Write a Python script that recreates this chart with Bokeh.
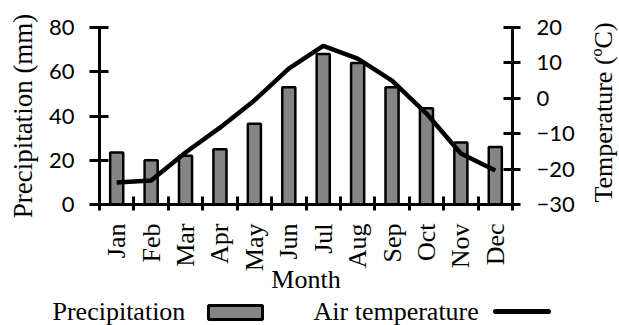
import math
from bokeh.plotting import figure
from bokeh.models import Range1d, LinearAxis, FixedTicker
from bokeh.core.properties import value
from bokeh.embed import file_html
from bokeh.resources import INLINE

months = ["Jan", "Feb", "Mar", "Apr", "May", "Jun", "Jul", "Aug", "Sep", "Oct", "Nov", "Dec"]
precip = [23.5, 20, 22, 25, 36.5, 53, 68, 64, 53, 43.5, 28, 26]
temp = [-23.8, -23.2, -15.3, -8.3, -0.6, 8.4, 14.8, 11.2, 5.0, -4.3, -15.6, -20.4]
precip_ticks = [0, 20, 40, 60, 80]
temp_ticks = [-30, -20, -10, 0, 10, 20]

centers = [i + 0.5 for i in range(len(months))]
bounds = list(range(len(months) + 1))

SERIF = "Liberation Serif"
SANS = "Lato"

# canvas / chart-area geometry in pixels; the frame fills the whole canvas
W, H = 619, 325
FL, FR, FT, FB = 99, 512, 27, 204
kx = (FR - FL) / len(months)
ky = (FB - FT) / (precip_ticks[-1] - precip_ticks[0])
kt = (FB - FT) / (temp_ticks[-1] - temp_ticks[0])
def dx(px):
    return (px - FL) / kx
def dy(py):
    return precip_ticks[0] + (FB - py) / ky
def ty(py):
    return temp_ticks[0] + (FB - py) / kt

p = figure(width=W, height=H, x_range=Range1d(dx(0), dx(W)),
           y_range=Range1d(dy(H), dy(0)),
           output_backend="svg", toolbar_location=None, min_border=0)
p.extra_y_ranges = {"temp": Range1d(ty(H), ty(0))}
p.outline_line_color = None
p.xgrid.visible = False
p.ygrid.visible = False
p.background_fill_color = "white"
p.border_fill_color = "white"

p.vbar(x=centers, top=precip, width=0.38, bottom=0,
       fill_color="#858585", line_color="black", line_width=2.5)
p.line(x=centers, y=temp, y_range_name="temp", line_color="black", line_width=4.5)

# bottom axis
xa = p.xaxis[0]
xa.fixed_location = precip_ticks[0]
xa.bounds = (0, len(months))
xa.ticker = FixedTicker(ticks=centers, minor_ticks=bounds)
xa.major_label_overrides = {c: m for c, m in zip(centers, months)}
xa.major_label_orientation = math.pi / 2
xa.major_tick_in = 0
xa.major_tick_out = 6
xa.major_tick_line_color = None
xa.minor_tick_in = 8
xa.minor_tick_out = 6
xa.minor_tick_line_width = 3
xa.minor_tick_line_color = "black"
xa.axis_line_width = 3
xa.axis_line_color = "black"
xa.major_label_standoff = 13
xa.major_label_text_font = SERIF
xa.major_label_text_font_size = "26px"
xa.major_label_text_color = "black"
xa.axis_label = "Month"
xa.axis_label_text_font = SERIF
xa.axis_label_text_font_size = "26px"
xa.axis_label_text_font_style = "normal"
xa.axis_label_text_color = "black"
xa.axis_label_standoff = -9

# left axis
ya = p.yaxis[0]
ya.fixed_location = 0
ya.bounds = (precip_ticks[0], precip_ticks[-1])
ya.ticker = FixedTicker(ticks=precip_ticks)
ya.major_tick_in = 9
ya.major_tick_out = 10
ya.major_tick_line_width = 3
ya.major_tick_line_color = "black"
ya.minor_tick_line_color = None
ya.axis_line_width = 3
ya.axis_line_color = "black"
ya.major_label_standoff = 15
ya.major_label_text_font = SANS
ya.major_label_text_font_size = "22px"
ya.major_label_text_color = "black"
ya.axis_label = "Precipitation (mm)"
ya.axis_label_text_font = SERIF
ya.axis_label_text_font_size = "27px"
ya.axis_label_text_font_style = "normal"
ya.axis_label_text_color = "black"
ya.axis_label_standoff = 8

# right axis
ra = LinearAxis(y_range_name="temp", ticker=FixedTicker(ticks=temp_ticks))
ra.fixed_location = len(months)
ra.bounds = (temp_ticks[0], temp_ticks[-1])
ra.major_tick_in = 9
ra.major_tick_out = 8
ra.major_tick_line_width = 3
ra.major_tick_line_color = "black"
ra.minor_tick_line_color = None
ra.axis_line_width = 3
ra.axis_line_color = "black"
ra.major_label_standoff = 16
ra.major_label_text_font = SANS
ra.major_label_text_font_size = "22px"
ra.major_label_text_color = "black"
p.add_layout(ra, "right")

# right axis title, reading bottom to top
p.text(x=[dx(603)], y=[dy(112)], text=["Temperature (ºC)"], angle=math.pi / 2,
       text_align="center", text_baseline="middle",
       text_font=value(SERIF), text_font_size="26px", text_color="black")

# legend (text first, then swatch)
p.text(x=[dx(52), dx(313)], y=[dy(311), dy(311)],
       text=["Precipitation", "Air temperature"], text_align="left",
       text_baseline="middle", text_font=value(SERIF),
       text_font_size="26px", text_color="black")
p.quad(left=[dx(208)], right=[dx(262)], top=[dy(305)], bottom=[dy(319)],
       fill_color="#858585", line_color="black", line_width=3)
p.line(x=[dx(495), dx(548)], y=[dy(311), dy(311)], line_color="black",
       line_width=5, line_cap="round")

open("out.html", "w").write(file_html(p, INLINE))
